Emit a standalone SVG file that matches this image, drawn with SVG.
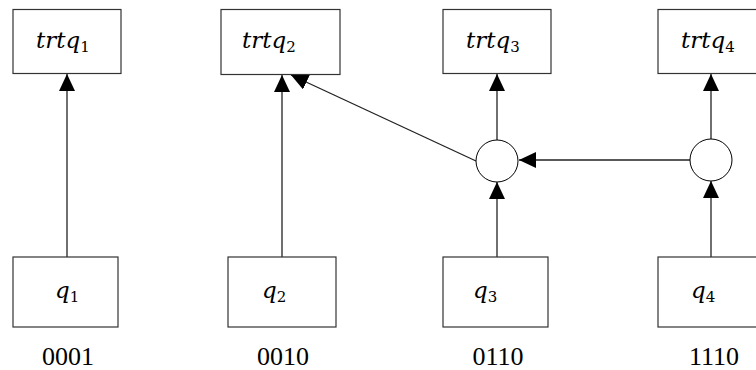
<svg xmlns="http://www.w3.org/2000/svg" width="756" height="370" viewBox="0 0 756 370">
<style>
.box{fill:#fff;stroke:#333;stroke-width:1.2}
.circ{fill:#fff;stroke:#000;stroke-width:1}
.m{font-family:"DejaVu Serif","Liberation Serif",serif;font-style:italic;font-size:23px;fill:#000}
.s{font-family:"DejaVu Serif","Liberation Serif",serif;font-style:normal;font-size:15px}
.n{font-family:"Liberation Serif","DejaVu Serif",serif;font-size:26px;fill:#000;text-anchor:middle}
.c{stroke:#222;stroke-width:1.3;fill:none;marker-end:url(#ah)}
</style>
<defs>
<marker id="ah" markerUnits="userSpaceOnUse" markerWidth="18" markerHeight="17" refX="17" refY="8" orient="auto">
<path d="M0,0 L17,8 L0,16 z" fill="#000"/>
</marker>
</defs>
<g id="connectors">
<line class="c" x1="67" y1="257" x2="67" y2="74"/>
<line class="c" x1="282" y1="257" x2="282" y2="75"/>
<line class="c" x1="476" y1="161" x2="291" y2="75"/>
<line class="c" x1="497" y1="140" x2="497" y2="74"/>
<line class="c" x1="711" y1="139" x2="711" y2="74"/>
<line class="c" x1="690" y1="160" x2="519" y2="160"/>
<line class="c" x1="497" y1="257" x2="497" y2="182"/>
<line class="c" x1="711" y1="257" x2="711" y2="181"/>
</g>
<g id="trtq1"><rect class="box" x="13" y="9.5" width="108" height="64"/><text class="m" x="36" y="48">trtq<tspan class="s" dy="4">1</tspan></text></g>
<g id="trtq2"><rect class="box" x="221" y="9.5" width="119" height="65"/><text class="m" x="242" y="48">trtq<tspan class="s" dy="4">2</tspan></text></g>
<g id="trtq3"><rect class="box" x="443" y="9.5" width="108" height="64"/><text class="m" x="466" y="48">trtq<tspan class="s" dy="4">3</tspan></text></g>
<g id="trtq4"><rect class="box" x="658" y="9.5" width="110" height="64"/><text class="m" x="681" y="48">trtq<tspan class="s" dy="4">4</tspan></text></g>
<g id="join3"><circle class="circ" cx="497" cy="161" r="21"/></g>
<g id="join4"><circle class="circ" cx="711" cy="160" r="21"/></g>
<g id="q1"><rect class="box" x="13" y="257" width="105" height="70"/><text class="m" x="55" y="298">q<tspan class="s" dy="4">1</tspan></text><text class="n" x="68" y="365">0001</text></g>
<g id="q2"><rect class="box" x="228" y="257" width="108" height="70"/><text class="m" x="262" y="298">q<tspan class="s" dy="4">2</tspan></text><text class="n" x="283" y="365">0010</text></g>
<g id="q3"><rect class="box" x="443" y="257" width="105" height="70"/><text class="m" x="473" y="298">q<tspan class="s" dy="4">3</tspan></text><text class="n" x="498" y="365">0110</text></g>
<g id="q4"><rect class="box" x="658" y="257" width="110" height="70"/><text class="m" x="691" y="298">q<tspan class="s" dy="4">4</tspan></text><text class="n" x="714" y="365">1110</text></g>
</svg>
